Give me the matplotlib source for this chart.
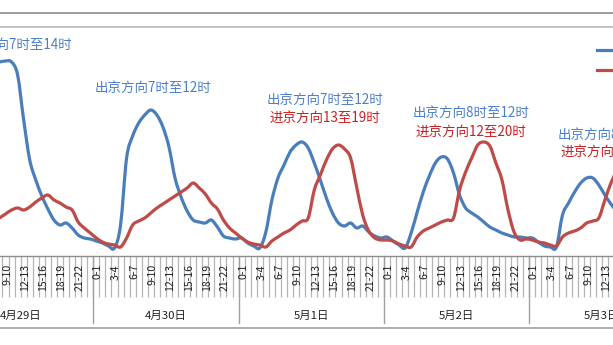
import numpy as np
import matplotlib
matplotlib.use('Agg')
import matplotlib.pyplot as plt
import matplotlib.transforms as mtransforms
from matplotlib.lines import Line2D
from matplotlib.path import Path
from matplotlib.patches import PathPatch

plt.rcParams['font.family'] = ['Noto Sans CJK SC', 'DejaVu Sans']

################ hourly traffic, 4/29 - 5/3 ################
nan = np.nan

days = ['4月29日', '4月30日', '5月1日', '5月2日', '5月3日']
hour_labels = ['%d-%d' % (h, h + 1) for h in range(24)]

# outbound (出京)
out_0429 = [nan]*8 + [194, 195, 194, 181, 136, 96, 76, 60, 47, 36, 31, 33, 28, 21, 18, 17]
out_0430 = [15, 13, 10, 8, 31, 98, 120, 133, 141, 146, 141, 129, 109, 78, 59, 45, 36, 34, 33, 36, 29, 20, 18, 17]
out_0501 = [18, 13, 10, 8, 24, 56, 78, 91, 104, 111, 114, 108, 93, 76, 58, 43, 33, 30, 33, 28, 30, 24, 20, 18]
out_0502 = [19, 15, 11, 8, 23, 44, 64, 80, 93, 99, 97, 83, 61, 48, 43, 39, 34, 29, 26, 23, 21, 19, 19, 18]
out_0503 = [18, 14, 10, 9, 9, 41, 53, 64, 73, 78, 78, 71, 61, 52, 44] + [nan]*9

# inbound (进京)
in_0429 = [nan]*8 + [38, 42, 46, 48, 46, 49, 54, 58, 61, 56, 53, 49, 46, 34, 28, 23]
in_0430 = [18, 14, 12, 11, 9, 18, 31, 35, 38, 43, 48, 52, 56, 60, 64, 68, 73, 68, 62, 53, 47, 36, 28, 23]
in_0501 = [18, 14, 12, 11, 9, 15, 19, 23, 26, 31, 35, 38, 66, 81, 96, 107, 111, 107, 98, 69, 41, 25, 18, 16]
in_0502 = [16, 15, 12, 10, 9, 19, 25, 28, 31, 34, 36, 38, 66, 84, 98, 111, 114, 110, 93, 76, 46, 24, 16, 17]
in_0503 = [16, 14, 13, 11, 10, 19, 23, 25, 28, 33, 35, 38, 56, 73, 86] + [nan]*9

outbound = out_0429 + out_0430 + out_0501 + out_0502 + out_0503
inbound = in_0429 + in_0430 + in_0501 + in_0502 + in_0503

# peak notes: (text, x, y, align, colour)
notes = [
    ('出京方向7时至14时', 20.5, 211, 'right', '#4A7FCB'),
    ('出京方向7时至12时', 33.9, 168, 'center', '#4A7FCB'),
    ('出京方向7时至12时', 62.2, 156, 'center', '#4A7FCB'),
    ('进京方向13至19时', 62.2, 138, 'center', '#C8201E'),
    ('出京方向8时至12时', 86.4, 143, 'center', '#4A7FCB'),
    ('进京方向12至20时', 86.4, 124, 'center', '#C8201E'),
    ('出京方向8时至12时', 110.4, 121, 'center', '#4A7FCB'),
    ('进京方向12至20时', 110.4, 104, 'center', '#C8201E'),
]

BLUE = '#4A7EBB'
RED = '#BE4B48'
GRID = '#b4b4b4'


# smoothed line like a spreadsheet "smooth line": cubic bezier through every point
def smooth_line(ax, xs, ys, **kw):
    ys = np.asarray(ys, float)
    ok = ~np.isnan(ys)
    px, py = np.asarray(xs)[ok], ys[ok]
    m = len(px)
    verts = [(px[0], py[0])]
    codes = [Path.MOVETO]
    for i in range(m - 1):
        p0 = (px[max(i-1, 0)], py[max(i-1, 0)])
        p1 = (px[i], py[i])
        p2 = (px[i+1], py[i+1])
        p3 = (px[min(i+2, m-1)], py[min(i+2, m-1)])
        c1 = (p1[0] + (p2[0]-p0[0])/6, p1[1] + (p2[1]-p0[1])/6)
        c2 = (p2[0] - (p3[0]-p1[0])/6, p2[1] - (p3[1]-p1[1])/6)
        verts += [c1, c2, p2]
        codes += [Path.CURVE4]*3
    patch = PathPatch(Path(verts, codes), fill=False, **kw)
    ax.add_patch(patch)
    return patch


W, H = 613, 345
fig = plt.figure(figsize=(W/100, H/100), dpi=100)

# plot area runs past both figure edges (4/29 starts at x=-52px)
ax_left, ax_right, ax_top, ax_bot = -52, 674.5, 27, 256
ax = fig.add_axes([ax_left/W, 1-ax_bot/H, (ax_right-ax_left)/W, (ax_bot-ax_top)/H])

n = len(outbound)
x = np.arange(n) + 0.5
smooth_line(ax, x, outbound, edgecolor=BLUE, lw=2.3, joinstyle='round', capstyle='round')
smooth_line(ax, x, inbound, edgecolor=RED, lw=2.3, joinstyle='round', capstyle='round')
ax.set_xlim(0, n)
ax.set_ylim(0, ax_bot - ax_top)

for s in ['top', 'left', 'right']:
    ax.spines[s].set_visible(False)
ax.spines['bottom'].set_color('#8c8c8c')
ax.spines['bottom'].set_linewidth(1.0)
ax.set_yticks([])

# one tick per hour, long grey lines through the label row
ax.set_xticks(np.arange(n + 1))
ax.set_xticklabels([])
ax.tick_params(axis='x', length=41*0.72, color=GRID, width=0.9, direction='out')

trans = mtransforms.blended_transform_factory(ax.transData, ax.transAxes)
ph = ax_bot - ax_top
for d in range(len(days)):
    for h in range(0, 24, 3):
        ax.text(d*24 + h + 0.75, -8/ph, hour_labels[h], transform=trans, rotation=90,
                ha='center', va='top', fontsize=7.6, color='#222222')
    ax.text(d*24 + 12, -60/ph, days[d], transform=trans, ha='center', va='center',
            fontsize=8.2, color='#222222')
    ax.plot([d*24, d*24], [0, -67/ph], transform=trans, color='#a0a0a0', lw=1.0, clip_on=False)

for txt, tx, ty, ha, c in notes:
    ax.text(tx, ty, txt, ha=ha, va='center', fontsize=9.7, color=c)

# legend lines only; the labels sit past the right edge
leg_lines = [Line2D([], [], color=BLUE, lw=2.3), Line2D([], [], color=RED, lw=2.3)]
ax.legend(leg_lines, ['出京方向', '进京方向'], loc='upper left', bbox_to_anchor=(597/W, 1-44/H),
          bbox_transform=fig.transFigure, frameon=False, fontsize=9.7, handlelength=2.0,
          borderpad=0, borderaxespad=0, labelspacing=0.45, handletextpad=0.5)

# chart frame lines
for yy, c in [(13, '#8c8c8c'), (27, '#b8b8b8'), (328, '#a0a0a0')]:
    fig.add_artist(Line2D([0, 1], [1-yy/H, 1-yy/H], color=c, lw=1.2, transform=fig.transFigure))

plt.savefig('out.png', dpi=100)
